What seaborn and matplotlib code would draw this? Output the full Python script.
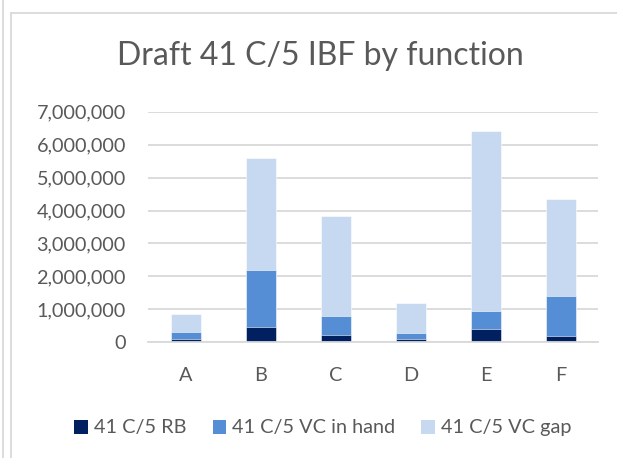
import pandas as pd
import matplotlib.pyplot as plt
from matplotlib.lines import Line2D
from matplotlib.patches import Patch
import seaborn as sns

# Values
functions = ["A", "B", "C", "D", "E", "F"]
rb = [110000, 460000, 230000, 110000, 410000, 200000]
vc_in_hand = [190000, 1730000, 580000, 160000, 540000, 1210000]
vc_gap = [560000, 3410000, 3010000, 910000, 5450000, 2930000]

series_names = ["41 C/5 RB", "41 C/5 VC in hand", "41 C/5 VC gap"]
colors = ["#002060", "#558ED5", "#C6D9F1"]

df = pd.DataFrame({"function": functions, "rb": rb, "hand": vc_in_hand, "gap": vc_gap})
df["lvl1"] = df["rb"]
df["lvl2"] = df["rb"] + df["hand"]
df["lvl3"] = df["lvl2"] + df["gap"]

sns.set_style("white")
plt.rcParams["font.family"] = ["Lato", "DejaVu Sans"]
text_color = "#595959"

fig = plt.figure(figsize=(6.17, 4.58), dpi=100)
ax = fig.add_axes([148 / 617, 115.7 / 458, 450 / 617, 230.6 / 458])

# Stacked bars: draw cumulative totals from the top layer down
for col, color in zip(["lvl3", "lvl2", "lvl1"], colors[::-1]):
    sns.barplot(data=df, x="function", y=col, color=color, width=0.4,
                edgecolor="white", linewidth=0.4, saturation=1, ax=ax)

ax.set_ylim(0, 7000000)
ax.set_yticks(range(0, 7000001, 1000000))
ax.set_yticklabels([f"{v:,}" for v in range(0, 7000001, 1000000)])
ax.yaxis.grid(True, color="#D9D9D9", linewidth=1.3)
ax.set_axisbelow(True)
for s in ["left", "right", "top"]:
    ax.spines[s].set_visible(False)
ax.spines["bottom"].set_color("#D9D9D9")
ax.spines["bottom"].set_linewidth(1.3)
ax.set_xlabel("")
ax.set_ylabel("")
ax.tick_params(axis="both", length=0, labelsize=14.3, colors=text_color)
ax.tick_params(axis="x", pad=18)
ax.tick_params(axis="y", pad=16)

fig.text(320 / 617, 1 - 56 / 458, "Draft 41 C/5 IBF by function", ha="center",
         va="center", fontsize=23, color=text_color)

handles = [Patch(facecolor=c, edgecolor="none") for c in colors]
fig.legend(handles, series_names, loc="center", bbox_to_anchor=(323 / 617, 30 / 458),
           ncol=3, frameon=False, fontsize=14.3, labelcolor=text_color,
           handlelength=0.7, handleheight=0.7, handletextpad=0.3,
           columnspacing=1.3)

# Chart frame lines like the reference
line_kw = dict(color="#D9D9D9", linewidth=1.3, transform=fig.transFigure)
fig.add_artist(Line2D([3 / 617, 3 / 617], [0, 1], **line_kw))
fig.add_artist(Line2D([11 / 617, 11 / 617], [0, 1 - 12.5 / 458], **line_kw))
fig.add_artist(Line2D([11 / 617, 1], [1 - 12.5 / 458, 1 - 12.5 / 458], **line_kw))

fig.savefig("out.png", dpi=100)
